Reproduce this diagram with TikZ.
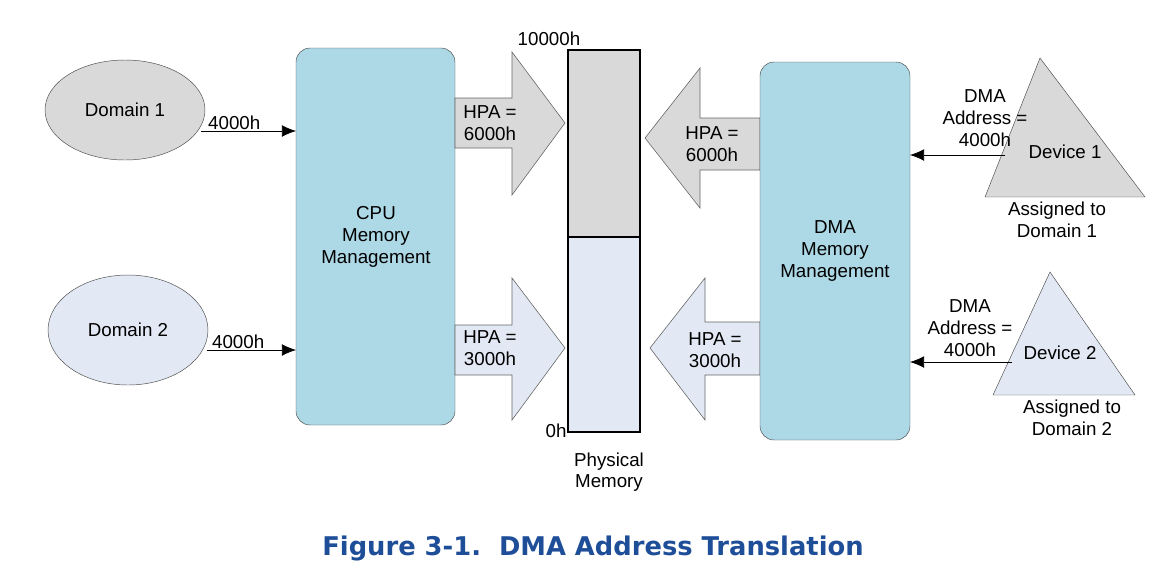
\documentclass[tikz,border=0pt]{standalone}
\usepackage{fontspec}
\setmainfont{Liberation Sans}
\newfontfamily\capfont{DejaVu Sans}
\usetikzlibrary{arrows.meta}
\definecolor{dgray}{HTML}{D9D9D9}
\definecolor{lblue}{HTML}{E3E9F4}
\definecolor{boxblue}{HTML}{ADD8E6}
\definecolor{capblue}{HTML}{1F4E99}
\begin{document}
\begin{tikzpicture}[x=0.03cm,y=-0.03cm,
  every node/.style={font=\fontsize{16}{18.5}\selectfont,align=center,inner sep=1pt},
  mgmt/.style={draw=black!70,fill=boxblue,rounded corners=12},
  big/.style={draw=black!60,line width=0.5pt},
  conn/.style={-{Latex[length=12,width=10]},line width=0.6pt}]
\useasboundingbox (0,0) rectangle (1166,574);
% domains
\path[draw=black!70,fill=dgray] (125,110) ellipse [x radius=80,y radius=50];
\node (d1t) at (125,110) {Domain 1};
\path[draw=black!70,fill=lblue] (128,330) ellipse [x radius=80,y radius=55];
\node (d2t) at (128,330) {Domain 2};
\coordinate (d1e) at (201,131);
\coordinate (d2e) at (207,350);
% CPU box
\draw[mgmt] (296,48) rectangle (455,425);
\node (cpu) at (376,237) {CPU\\Memory\\Management};
\coordinate (cpu1) at (296,131);
\coordinate (cpu2) at (296,350);
\draw[conn] (d1e) -- node[above,pos=0.35] {4000h} (cpu1);
\draw[conn] (d2e) -- node[above,pos=0.35] {4000h} (cpu2);
% big right arrows
\draw[big,fill=dgray] (455,98) -- (512,98) -- (512,52) -- (565,123) -- (512,195) -- (512,148) -- (455,148) -- cycle;
\node (h1) at (490,123) {HPA =\\6000h};
\draw[big,fill=lblue] (455,325) -- (512,325) -- (512,278) -- (565,348) -- (512,420) -- (512,375) -- (455,375) -- cycle;
\node (h2) at (490,348) {HPA =\\3000h};
% memory
\draw[fill=dgray,draw=none] (568,50) rectangle (640,237);
\draw[fill=lblue,draw=none] (568,237) rectangle (640,432);
\draw[line width=1.8pt] (568,50) rectangle (640,432);
\draw[line width=1.8pt] (568,237) -- (640,237);
\node (top) at (549,39) {10000h};
\node (bot) at (556,431) {0h};
\node (pm) at (609,472) {Physical\\Memory};
% big left arrows
\draw[big,fill=dgray] (760,118) -- (700,118) -- (700,68) -- (645,138) -- (700,208) -- (700,170) -- (760,170) -- cycle;
\node (h3) at (712,144) {HPA =\\6000h};
\draw[big,fill=lblue] (760,322) -- (705,322) -- (705,278) -- (650,348) -- (705,420) -- (705,375) -- (760,375) -- cycle;
\node (h4) at (715,350) {HPA =\\3000h};
% DMA box
\draw[mgmt] (760,62) rectangle (910,440);
\node (dma) at (835,251) {DMA\\Memory\\Management};
\coordinate (dma1) at (910,155);
\coordinate (dma2) at (910,362);
% devices
\draw[draw=black!70,fill=dgray] (1040,58) -- (1145,197) -- (985,197) -- cycle;
\node (dev1) at (1065,152) {Device 1};
\node (as1) at (1057,220) {Assigned to\\Domain 1};
\draw[draw=black!70,fill=lblue] (1050,272) -- (1135,395) -- (993,395) -- cycle;
\node (dev2) at (1060,353) {Device 2};
\node (as2) at (1072,418) {Assigned to\\Domain 2};
\coordinate (de1) at (1005,155);
\coordinate (de2) at (1012,362);
\draw[conn] (de1) -- (dma1);
\draw[conn] (de2) -- (dma2);
\node (l1) at (985,118) {DMA\\Address =\\4000h};
\node (l2) at (970,328) {DMA\\Address =\\4000h};
% caption
\node[font=\capfont\fontsize{22}{24}\selectfont\bfseries,text=capblue] (cap) at (593,548) {Figure 3-1.\ \ DMA Address Translation};
\end{tikzpicture}
\end{document}
